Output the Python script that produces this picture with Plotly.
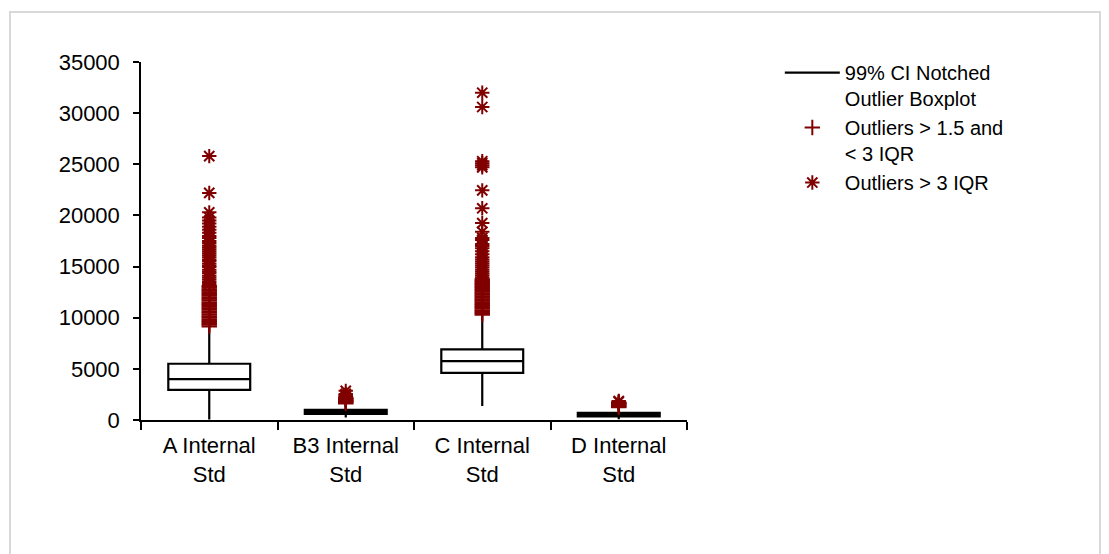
import plotly.graph_objects as go

# Categories along the x axis
categories = ["A Internal<br>Std", "B3 Internal<br>Std", "C Internal<br>Std", "D Internal<br>Std"]

# Box statistics per category
q1 = [2950, 600, 4600, 350]
median = [4000, 800, 5750, 500]
q3 = [5500, 1000, 6900, 700]
lower_fence = [50, 250, 1370, 80]
upper_fence = [8800, 1500, 9950, 1200]

# Mild outliers (> 1.5 and < 3 IQR)
mild_a = [9150, 9310, 9420, 9580, 9700, 9860, 10010, 10150, 10320, 10480, 10600, 10770,
          10930, 11080, 11240, 11390, 11520, 11700, 11850, 12010, 12160, 12320, 12480,
          12630, 12790, 12950, 13100]
mild_b3 = [1620, 1700, 1780, 1860, 1940, 2020, 2100, 2180]
mild_c = [10300, 10450, 10600, 10740, 10900, 11050, 11200, 11340, 11500, 11650, 11800,
          11950, 12100, 12250, 12400, 12550, 12700, 12850, 13000, 13150, 13300, 13450,
          13600, 13750]
mild_d = [1250, 1330, 1420, 1500, 1580, 1660, 1720]

# Extreme outliers (> 3 IQR)
extreme_a = [13300, 13500, 13700, 13900, 14100, 14350, 14500, 14700, 14950, 15100, 15300,
             15550, 15700, 15900, 16100, 16300, 16500, 16700, 16900, 17050, 17300, 17500,
             17800, 18000, 18300, 18600, 18900, 19200, 19500, 19800, 20300, 22200, 25800]
extreme_b3 = [2250, 2350, 2450, 2550, 2850]
extreme_c = [13900, 14100, 14300, 14500, 14700, 14900, 15100, 15300, 15500, 15700, 15900,
             16200, 16500, 16800, 17000, 17200, 17600, 17800, 18400, 19250, 20700, 22450,
             24700, 24900, 25100, 25300, 30600, 32000]
extreme_d = [1780, 1860]

RED = "#800000"
FONT = "Liberation Sans, Arial, sans-serif"

fig = go.Figure()

fig.add_trace(go.Box(
    x=categories,
    q1=q1, median=median, q3=q3,
    lowerfence=lower_fence, upperfence=upper_fence,
    fillcolor="white",
    line=dict(color="black", width=2.2),
    width=0.6,
    whiskerwidth=0,
    boxpoints=False,
    showlegend=False,
    hoverinfo="skip",
))

# Legend entry for the boxplot itself
fig.add_trace(go.Scatter(
    x=[None], y=[None], mode="lines",
    line=dict(color="black", width=2.2),
    name="99% CI Notched<br>Outlier Boxplot",
))

mild_groups = [mild_a, mild_b3, mild_c, mild_d]
extreme_groups = [extreme_a, extreme_b3, extreme_c, extreme_d]

mild_x, mild_y = [], []
for cat, vals in zip(categories, mild_groups):
    mild_x += [cat] * len(vals)
    mild_y += vals

ext_x, ext_y = [], []
for cat, vals in zip(categories, extreme_groups):
    ext_x += [cat] * len(vals)
    ext_y += vals

fig.add_trace(go.Scatter(
    x=mild_x, y=mild_y, mode="markers",
    marker=dict(symbol="cross-thin", size=11, color=RED, line=dict(color=RED, width=2)),
    name="Outliers > 1.5 and<br>< 3 IQR",
))

fig.add_trace(go.Scatter(
    x=ext_x, y=ext_y, mode="markers",
    marker=dict(symbol="asterisk", size=12, color=RED, line=dict(color=RED, width=2)),
    name="Outliers > 3 IQR",
))

# Outer frame
L, T, B, R = 141, 62, 420, 687
pw, ph = R - L, B - T
fig.add_shape(
    type="rect", xref="paper", yref="paper",
    x0=(10 - L) / pw, x1=(1100 - L) / pw,
    y0=(B - 570) / ph, y1=(B - 12) / ph,
    line=dict(color="#d9d9d9", width=2),
    fillcolor="rgba(0,0,0,0)",
    layer="below",
)

fig.update_layout(
    width=1109, height=554,
    margin=dict(l=L, r=1109 - R, t=T, b=554 - B),
    paper_bgcolor="white", plot_bgcolor="white",
    font=dict(family=FONT, size=20, color="black"),
    legend=dict(
        x=1.17, y=1.025, xanchor="left", yanchor="top",
        font=dict(family=FONT, size=20, color="black"),
        valign="top",
        itemwidth=55,
        tracegroupgap=0,
        bgcolor="rgba(0,0,0,0)",
    ),
    xaxis=dict(
        type="category",
        showline=True, linecolor="black", linewidth=1.5,
        ticks="outside", tickson="boundaries", ticklen=8, tickcolor="black", tickwidth=1.5,
        showgrid=False, zeroline=False,
        tickfont=dict(family=FONT, size=22, color="black"),
        ticklabelstandoff=5,
    ),
    yaxis=dict(
        range=[0, 35000], dtick=5000, tickformat="d",
        showline=True, linecolor="black", linewidth=1.5,
        ticks="outside", ticklen=6, tickcolor="black", tickwidth=1.5,
        showgrid=False, zeroline=False,
        tickfont=dict(family=FONT, size=22, color="black"),
        ticklabelstandoff=9,
    ),
)

fig.write_html("out.html")
